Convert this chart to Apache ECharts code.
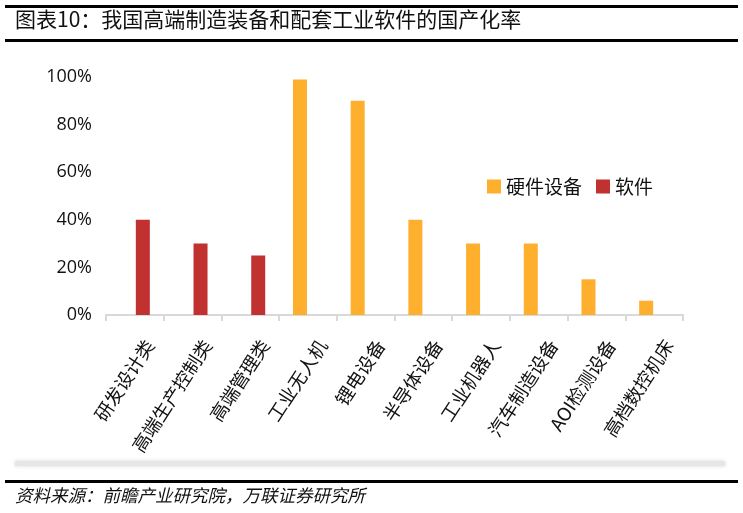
<!DOCTYPE html>
<html>
<head>
<meta charset="utf-8">
<script src="https://cdn.jsdelivr.net/npm/echarts@6/dist/echarts.min.js"></script>
<style>
  html, body { margin: 0; padding: 0; background: #fff; }
  #chartBox { width: 743px; height: 513px; }
</style>
</head>
<body>
<div id="chartBox"></div>
<script>
const categories = ['研发设计类', '高端生产控制类', '高端管理类', '工业无人机', '锂电设备',
  '半导体设备', '工业机器人', '汽车制造设备', 'AOI检测设备', '高档数控机床'];
// 国产化率 (%)
const hardware = [null, null, null, 99, 90, 40, 30, 30, 15, 6];
const software = [40, 30, 25, null, null, null, null, null, null, null];
const seriesNames = ['硬件设备', '软件'];

const cjk = '"Noto Sans CJK SC", "Noto Sans", sans-serif';

let chartDom = document.getElementById('chartBox');
let myChart = echarts.init(chartDom);
let option = {
  animation: false,
  color: ['#FFAF2E', '#C0312F'],
  grid: { left: 106, right: 60, top: 77, bottom: 198 },
  legend: {
    data: seriesNames,
    left: 482,
    top: 172,
    itemWidth: 14,
    itemHeight: 14,
    itemGap: 14,
    icon: 'rect',
    textStyle: { fontSize: 19, color: '#111', fontFamily: cjk }
  },
  xAxis: {
    type: 'category',
    data: categories,
    axisLine: { lineStyle: { color: '#d9d9d9', width: 2 } },
    axisTick: { show: true, length: 6, lineStyle: { color: '#d9d9d9', width: 2 } },
    axisLabel: {
      rotate: 57,
      interval: 0,
      margin: 10,
      verticalAlign: 'top',
      padding: [12, 6, 0, 0],
      fontSize: 18.5,
      color: '#111',
      fontFamily: cjk
    }
  },
  yAxis: {
    type: 'value',
    min: 0,
    max: 100,
    interval: 20,
    axisLine: { show: false },
    axisTick: { show: false },
    splitLine: { show: false },
    axisLabel: {
      formatter: '{value}%',
      fontSize: 18,
      margin: 14,
      color: '#111',
      fontFamily: '"Open Sans", "Noto Sans", sans-serif'
    }
  },
  series: [
    { name: seriesNames[0], type: 'bar', data: hardware, barWidth: 14, barGap: '14%' },
    { name: seriesNames[1], type: 'bar', data: software, barWidth: 14 }
  ],
  graphic: [
    { type: 'rect', shape: { x: 5, y: 5, width: 733, height: 3 }, style: { fill: '#000' } },
    {
      type: 'text', left: 15, top: 9,
      style: { text: '图表10：我国高端制造装备和配套工业软件的国产化率', fontSize: 21, fill: '#111', fontFamily: cjk }
    },
    { type: 'rect', shape: { x: 5, y: 39, width: 733, height: 3 }, style: { fill: '#000' } },
    {
      type: 'rect', shape: { x: 15, y: 461, width: 710, height: 5 },
      style: { fill: '#e6e6e6', shadowBlur: 4, shadowColor: 'rgba(0,0,0,0.15)' }
    },
    { type: 'rect', shape: { x: 5, y: 480, width: 733, height: 3 }, style: { fill: '#000' } },
    {
      type: 'text', left: 15, top: 487,
      style: { text: '资料来源：前瞻产业研究院，万联证券研究所', fontSize: 17.5, fontStyle: 'italic', fill: '#111', fontFamily: cjk }
    }
  ]
};
myChart.setOption(option);
</script>
</body>
</html>
